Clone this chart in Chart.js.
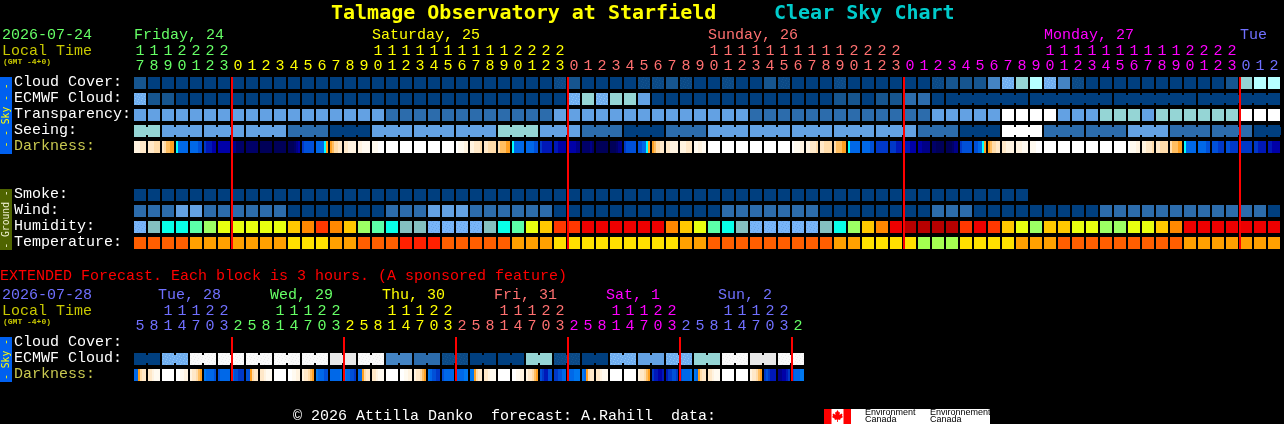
<!DOCTYPE html>
<html><head><meta charset="utf-8">
<style>html,body{margin:0;padding:0;background:#000;overflow:hidden}canvas{position:absolute;left:0;display:block}</style>
<script src="https://cdn.jsdelivr.net/npm/chart.js@4"></script>
</head><body>
<canvas id="main" width="1284" height="260" style="top:0"></canvas>
<canvas id="ext" width="1284" height="164" style="top:260px"></canvas>
<script>
const MONO='"Liberation Mono"', TITLE='"DejaVu Sans Mono"';
const GREEN='#66ff66',YEL='#ffff00',SAL='#ff7070',MAG='#ff00ff',BLU='#7070ff';

const rowLabels=['Cloud Cover:','ECMWF Cloud:','Transparency:','Seeing:','Darkness:','','','Smoke:','Wind:','Humidity:','Temperature:'];
const extRowLabels=['Cloud Cover:','ECMWF Cloud:','Darkness:'];

const hours=[17,18,19,20,21,22,23,
 0,1,2,3,4,5,6,7,8,9,10,11,12,13,14,15,16,17,18,19,20,21,22,23,
 0,1,2,3,4,5,6,7,8,9,10,11,12,13,14,15,16,17,18,19,20,21,22,23,
 0,1,2,3,4,5,6,7,8,9,10,11,12,13,14,15,16,17,18,19,20,21,22,23,
 0,1,2];
const extHours=[5,8,11,14,17,20,23, 2,5,8,11,14,17,20,23, 2,5,8,11,14,17,20,23, 2,5,8,11,14,17,20,23, 2,5,8,11,14,17,20,23, 2,5,8,11,14,17,20,23, 2];
const dayNames=['Friday, 24','Saturday, 25','Sunday, 26','Monday, 27','Tue'];
const dayLabelCols=[0,17,41,65,79];
const dayColors=[GREEN,YEL,SAL,MAG,BLU];
const extDayNames=['Tue, 28','Wed, 29','Thu, 30','Fri, 31','Sat, 1','Sun, 2'];
const extDayColors=[BLU,GREEN,YEL,SAL,MAG,BLU,GREEN];

// a fine dither tile, used for the in-between sky and humidity classes
function speck(base,dot){
  const t=document.createElement('canvas');t.width=7;t.height=5;
  const g=t.getContext('2d');g.fillStyle=base;g.fillRect(0,0,7,5);g.fillStyle=dot;
  [[1,0],[4,1],[6,2],[2,3],[5,4]].forEach(p=>g.fillRect(p[0],p[1],1,1));
  return g.createPattern(t,'repeat');
}
// sky condition levels, index into skyPalette
const skyPalette=['#003f7f',speck('#0b4985','#14548f'),'#16558f','#2c6cac','#4484c4','#63a1e3',speck('#70aef0','#8cc4f4'),'#95d5d5','#b6ffff','#ffffff','#e8e8e8',speck('#fafafa','#ececec')];
const cloudCover=[2,0,0,0,0,0,0,0,0,0, 0,0,0,0,0,0,0,0,0,0, 0,0,0,0,0,0,0,0,0,0, 1,2,0,0,0,0,1,1,2,1, 0,0,1,0,0,2,1,0,0,0, 1,0,0,0,0,0,0,1,2,2, 2,4,6,7,8,6,4,1,0,0, 0,0,0,0,0,0,0,0,2,7, 8,8];
const ecmwfCloud=[6,2,2,0,0,0,0,0,0,0, 0,0,0,0,0,0,0,0,0,0, 0,0,0,0,0,0,0,0,0,0, 0,6,7,6,7,7,5,0,0,0, 0,0,0,0,0,0,0,0,0,0, 2,2,0,2,2,3,3,0,0,0, 0,0,0,0,0,0,0,0,0,0, 0,0,0,0,0,0,0,0,0,0, 0,0];
const ecmwfGroups=[58,6,6,6,6];
const transparency=[5,5,5,5,5,5,5,5,5,5, 5,5,5,5,5,5,5,5,3,3, 3,3,3,3,3,3,3,3,3,3, 5,5,5,5,5,5,5,5,5,5, 5,5,5,5,3,3,3,3,3,3, 3,3,3,3,3,3,3,5,5,5, 5,5,9,9,9,9,5,5,5,7, 7,7,5,7,7,7,7,7,7,9, 9,9];
const seeing=[7,7,5,5,5,5,5,5,5,5, 5,3,3,3,0,0,0,5,5,5, 5,5,5,5,5,5,7,7,7,5, 5,5,3,3,3,0,0,0,3,3, 3,5,5,5,5,5,5,5,5,5, 5,5,5,5,5,5,3,3,3,0, 0,0,9,9,9,3,3,3,3,3, 3,5,5,5,3,3,3,3,3,3, 0,0];
const seeingGroups=[2,3,3,3,3,3,3,3,3,3,3,3,3,3,3,3,3,3,3,3,3,3,3,3,3,3,3,3];
const smoke=[0,0,0,0,0,0,0,0,0,0, 0,0,0,0,0,0,0,0,0,0, 0,0,0,0,0,0,0,0,0,0, 0,0,0,0,0,0,0,0,0,0, 0,0,0,0,0,0,0,0,0,0, 0,0,0,0,0,0,0,0,0,0, 0,0,0,0];
const wind=[3,3,3,5,5,3,3,3,3,3, 3,0,0,0,0,0,0,0,3,3, 3,5,5,5,3,3,3,3,3,3, 0,0,0,0,0,0,0,0,0,0, 0,0,3,3,3,3,3,3,3,0, 0,0,0,0,0,0,0,3,3,3, 0,0,0,0,0,0,0,0,0,3, 3,3,3,3,3,3,3,3,3,3, 3,0];

// humidity and temperature classes, index into their palettes
const humidityPalette=[speck('#78b4f8','#68a4e8'),'#84c0c0','#08ffe8','#5cffa8','#9cff64','#e8ff10','#ffc800','#ff8800','#ff3800','#ee0000','#b80000'];
const humidity=[0,1,2,2,3,4,5,5,5,5, 5,6,7,8,7,6,4,3,2,1, 1,0,0,0,0,1,2,3,5,6, 8,8,9,9,9,9,9,9,7,6, 5,3,2,1,0,0,0,0,0,1, 2,4,6,7,9,10,10,10,10,8, 9,8,6,5,4,6,6,5,5,4, 4,5,5,6,7,9,9,9,9,9, 9,9];
const temperaturePalette=['#a4ff50','#ffe000','#ffa000','#ff5e00','#ff2000'];
const temperature=[3,3,3,3,2,2,2,2,2,2, 2,1,1,1,2,2,3,3,3,4, 4,4,3,3,3,3,3,2,2,2, 1,1,1,1,1,1,1,1,1,2, 2,3,3,3,3,3,3,3,3,3, 2,2,1,1,1,1,0,0,0,1, 1,1,1,2,2,2,3,3,3,3, 3,3,3,3,3,2,2,2,2,2, 2,2];

// darkness: each block is a run of equal stripes, one letter per stripe
const darkColors={w:'#ffffff',v:'#fffaf0',u:'#fff3e0',t:'#ffe8c8',s:'#ffdcaa',r:'#ffbe60',q:'#ffa020',C:'#00ffff',A:'#0078f0',B:'#0068e8',D:'#0050d8',E:'#0038c8',F:'#0018b8',G:'#0000a8',H:'#000088',I:'#000068',J:'#000058'};
const darkness=['uuuttt','tttsss','tsrrqq','CBBBBB','BBBBDD','EFFFGG','G','HHIIII','I','J',
 'J','JJJIHG','EDDDDD','BBBBCq','qrsstt','ttuuuu','uuvvvv','vvvwww','w','w',
 'w','w','w','wvvvuu','uuttts','ttssss','srrrqq','CBBBBB','BBBBDD','EFFFFF',
 'FFGGGG','GGGGHH','IIIIHI','J','JJJIHH','EDDDDD','DDBBCq','qrsstt','ttuuuu','uuuttt',
 'vvuuvv','w','w','w','w','w','w','wvvvuu','uuttts','ttssss',
 'srrrqq','CBBBBB','BBBBDD','E','EEEFFF','FFFGGG','GGHHHH','IIJJJJ','JJJIHH','EDDDDD',
 'DDBBCq','qrsstt','ttuuuu','uuuvvv','vvvwww','w','w','w','w','w',
 'w','wvvvuu','uuttts','ttssss','srrrqq','CBBBBB','BBBBDD','DDDEEE','DDEEEE','E',
 'EEFFFF','FFGGGG'];

const extEcmwf=[0,0,6,6,11,11,11,11,11,11,11,11,11,11,10,10,11,11,4,4,3,3,1,1, 0,0,0,0,7,7,1,1,0,0,6,6,5,5,6,6,7,7,11,11,10,10,11,11];
const extEcmwfGroups=[2,2,2,2,2,2,2,2,2,2,2,2,2,2,2,2,2,2,2,2,2,2,2,2];
const extDarkness=['BBqstt','ttuvvv','w','wwvvuu','uttsrq','ABBBBD','DBBBBB','BDDEEE',
 'DDqstt','ttuvvv','w','wwvvuu','uttsrq','ABBBDD','BBBBBA','ABBDDE',
 'BBqstt','ttuvvv','w','wwvvuu','uttsrq','ABDDEE','DBBBBB','BBBBAA',
 'AAqstt','ttuvvv','w','wwvvuu','uttsrq','DEFFDD','EEDDBB','BBBAAA',
 'ABqstt','ttuvvv','w','w','uttsrq','EFFGGF','FEEDDE','DBBBBA',
 'ABqstt','ttuvvv','w','w','uttsrq','EDEFFF','HHGGFE','DBBBAA'];

const midnightCols=[7,31,55,79];
const extMidnightCols=[7,15,23,31,39,47];

const CELL=12/16, LINK=8/16, COLW=14;
const BAR={maxBarThickness:12,barPercentage:1,categoryPercentage:1,grouped:false,inflateAmount:0,borderWidth:0,order:2};
function cellData(values,row){return values.map((v,i)=>({x:i,y:[row-CELL/2,row+CELL/2]}));}
function cellSet(values,row,pal){return {...BAR,type:'bar',xAxisID:'x',data:cellData(values,row),backgroundColor:values.map(v=>pal[v])};}
function linkSet(values,row,pal,groups,start){
  const data=[],colors=[];
  let c=0;
  groups.forEach((n,k)=>{
    if(start&&k===0){c=n;return;}
    for(let i=0;i<n-1;i++){data.push({x:c+i+0.5,y:[row-LINK/2,row+LINK/2]});colors.push(pal[values[c+i]]);}
    c+=n;
  });
  return {...BAR,maxBarThickness:2,type:'bar',xAxisID:'x2',data,backgroundColor:colors};
}
function darkSet(stripes,row){
  return {...BAR,type:'bar',xAxisID:'x',data:cellData(stripes,row),
    backgroundColor(ctx){
      const s=stripes[ctx.dataIndex],sc=ctx.chart.scales.x;
      if(!s)return '#000';
      if(s.length===1||!sc)return darkColors[s[0]];
      const p=sc.getPixelForValue(ctx.dataIndex)-6;
      if(!isFinite(p))return darkColors[s[0]];
      const g=ctx.chart.ctx.createLinearGradient(p,0,p+12,0);
      [...s].forEach((k,i)=>{g.addColorStop(i/s.length,darkColors[k]);g.addColorStop((i+1)/s.length,darkColors[k]);});
      return g;
    }};
}
function redSet(cols,lo,hi){
  const data=[];
  cols.forEach(c=>{const x=c-0.5+1/COLW;data.push({x,y:lo},{x,y:hi},{x,y:null});});
  return {type:'line',xAxisID:'x',data,borderColor:'#ff0000',borderWidth:2,pointRadius:0,spanGaps:false,borderCapStyle:'butt',order:1,clip:false};
}
function text(c,s,x,y,color,font){c.fillStyle=color;c.font=font;c.textAlign='left';c.textBaseline='middle';c.fillText(s,x,y);}
function strip(c,s,x0,y0,y1,bg,fg){
  c.fillStyle=bg;c.fillRect(x0,y0,12,y1-y0);
  c.save();c.translate(x0+6,(y0+y1)/2);c.rotate(-Math.PI/2);c.fillStyle=fg;c.font='9.7px '+TITLE;c.textAlign='center';c.textBaseline='middle';c.fillText(s,0,0);c.restore();
}
function build(id,hrs,colorOf,labels,rowColor,datasets,overlay,height){
  const n=hrs.length;
  const last=labels.length-1;
  return new Chart(document.getElementById(id),{
    type:'bar',
    data:{datasets},
    plugins:[{id:'overlay',afterDraw:overlay}],
    options:{
      responsive:false,animation:false,devicePixelRatio:1,events:[],
      layout:{padding:{left:14,right:1284-133-n*COLW,top:0,bottom:height-75-labels.length*16}},
      plugins:{legend:{display:false},tooltip:{enabled:false}},
      scales:{
        x:{type:'linear',offset:false,position:'top',min:-0.5,max:n-0.5,
          grid:{display:false,drawTicks:false},border:{display:false},
          afterBuildTicks(s){s.ticks=hrs.map((h,i)=>({value:i}));},
          afterFit(s){s.height=75;},
          ticks:{autoSkip:false,maxRotation:0,minRotation:0,padding:1,font:{family:MONO,size:15,lineHeight:1},
            color:c=>colorOf(c.index),
            callback(v,i){const h=hrs[i];return [h>=10?String(Math.floor(h/10)):' ',String(h%10)];}}},
        x2:{type:'linear',offset:false,display:false,min:-0.5,max:n-0.5},
        y:{type:'linear',reverse:true,min:-0.5,max:last+0.5,
          grid:{display:false,drawTicks:false},border:{display:false},
          afterBuildTicks(s){s.ticks=labels.map((l,i)=>({value:i-0.5/16}));},
          afterFit(s){s.width=119;},
          ticks:{autoSkip:false,crossAlign:'far',padding:0,font:{family:MONO,size:15,lineHeight:1},
            color:c=>rowColor(labels[c.index]),
            callback(v,i){return labels[i];}}}
      }
    }
  });
}
const rowColor=l=>l==='Darkness:'?'#c8c850':'#ffffff';
function leftHeader(c,date,dateColor){
  text(c,date,2,35.5,dateColor,'15px '+MONO);
  text(c,'Local Time',2,51,'#c8c800','15px '+MONO);
  text(c,'(GMT -4+0)',3,62,'#c8c800','bold 8px '+MONO);
}
function mainColor(i){return i<7?GREEN:i<31?YEL:i<55?SAL:i<79?MAG:BLU;}
function extColor(i){return extDayColors[Math.floor((i+1)/8)];}

build('main',hours,mainColor,rowLabels,rowColor,[
  cellSet(cloudCover,0,skyPalette),
  cellSet(ecmwfCloud,1,skyPalette),linkSet(ecmwfCloud,1,skyPalette,ecmwfGroups,true),
  cellSet(transparency,2,skyPalette),
  cellSet(seeing,3,skyPalette),linkSet(seeing,3,skyPalette,seeingGroups,false),
  darkSet(darkness,4),
  cellSet(smoke,7,skyPalette),
  cellSet(wind,8,skyPalette),
  cellSet(humidity,9,humidityPalette),
  cellSet(temperature,10,temperaturePalette),
  redSet(midnightCols,-0.375,10.375)
],chart=>{
  const c=chart.ctx,sx=chart.scales.x,sy=chart.scales.y;
  c.save();
  text(c,'Talmage Observatory at Starfield',331,14,'#ffff00','bold 20px '+TITLE);
  text(c,'Clear Sky Chart',774,14,'#00cccc','bold 20px '+TITLE);
  leftHeader(c,'2026-07-24',GREEN);
  dayNames.forEach((d,i)=>text(c,d,sx.getPixelForValue(dayLabelCols[i])-6,35.5,dayColors[i],'15px '+MONO));
  strip(c,'- - Sky - -',0,sy.getPixelForValue(0)-6,sy.getPixelForValue(4)+7,'#0060f0','#ffff00');
  strip(c,'- Ground -',0,sy.getPixelForValue(7)-6,sy.getPixelForValue(10)+7,'#4f6400','#f0f0d0');
  c.restore();
},260);

build('ext',extHours,extColor,extRowLabels,rowColor,[
  cellSet(extEcmwf,1,skyPalette),linkSet(extEcmwf,1,skyPalette,extEcmwfGroups,false),
  darkSet(extDarkness,2),
  redSet(extMidnightCols,-0.375,2.375)
],chart=>{
  const c=chart.ctx,sx=chart.scales.x,sy=chart.scales.y;
  c.save();
  text(c,'EXTENDED Forecast. Each block is 3 hours. (A sponsored feature)',0,16,'#ff0000','15px '+MONO);
  leftHeader(c,'2026-07-28',BLU);
  extDayNames.forEach((d,i)=>text(c,d,sx.getPixelForValue(8*i+1.29),35.5,extDayColors[i],'15px '+MONO));
  strip(c,'- Sky -',0,sy.getPixelForValue(0)-6,sy.getPixelForValue(2)+7,'#0060f0','#ffff00');
  text(c,'\u00a9 2026 Attilla Danko  forecast: A.Rahill  data:',293,156,'#ffffff','15px '+MONO);
  // Environment Canada logo
  const ly=149;
  c.fillStyle='#ffffff';c.fillRect(824,ly,166,15);
  c.fillStyle='#ff0000';c.fillRect(824,ly,7.5,15);c.fillRect(843.5,ly,7.5,15);
  c.save();c.translate(837.5,ly+7);c.beginPath();
  [[0,-6],[1.5,-3.5],[2.5,-4],[2,-1],[4,-2.5],[5,-1.5],[4.5,0],[5.5,1],[2.5,3],[3,4],[0.4,3.6],[0.4,6],[-0.4,6],[-0.4,3.6],[-3,4],[-2.5,3],[-5.5,1],[-4.5,0],[-5,-1.5],[-4,-2.5],[-2,-1],[-2.5,-4],[-1.5,-3.5]].forEach((p,i)=>i?c.lineTo(p[0],p[1]):c.moveTo(p[0],p[1]));
  c.closePath();c.fillStyle='#ff0000';c.fill();c.restore();
  text(c,'Environment',865,ly+4,'#000000','9px "Liberation Sans"');
  text(c,'Canada',865,ly+11,'#000000','9px "Liberation Sans"');
  text(c,'Environnement',930,ly+4,'#000000','9px "Liberation Sans"');
  text(c,'Canada',930,ly+11,'#000000','9px "Liberation Sans"');
  c.restore();
},164);
</script>
</body></html>
